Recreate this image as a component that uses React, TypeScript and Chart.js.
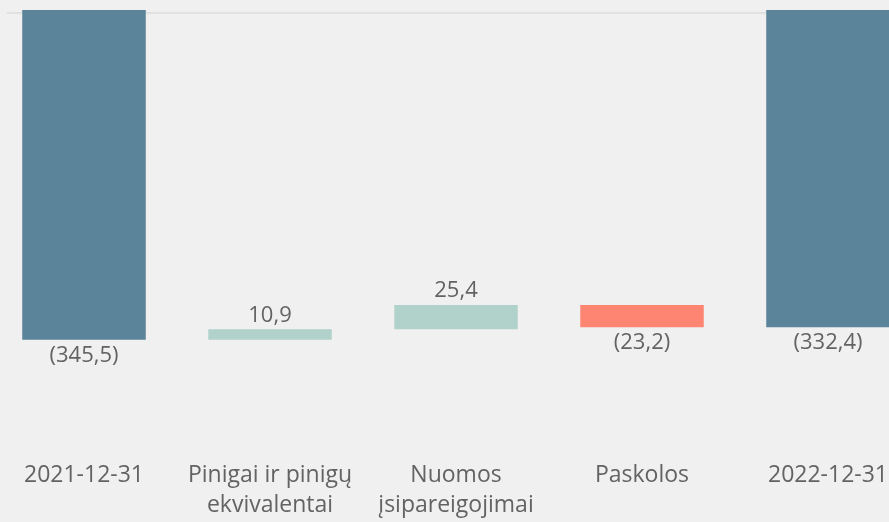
import React, { useEffect, useRef } from 'react';
import { Chart, registerables } from 'chart.js';
Chart.register(...registerables);

const categories: string[][] = [
  ['2021-12-31'],
  ['Pinigai ir pinigų', 'ekvivalentai'],
  ['Nuomos', 'įsipareigojimai'],
  ['Paskolos'],
  ['2022-12-31'],
];
const values = [-345.5, 10.9, 25.4, -23.2, -332.4];
const kinds = ['total', 'change', 'change', 'change', 'total'];

const COLOR_TOTAL = '#5b8399';
const COLOR_UP = '#b1d2ca';
const COLOR_DOWN = '#ff8573';
const TEXT = '#636363';
const FONT = "'Open Sans', 'Segoe UI', sans-serif";

function buildRanges() {
  let running = 0;
  return values.map((v, i) => {
    if (kinds[i] === 'total') {
      running = v;
      return [0, v];
    }
    const r = [running, running + v];
    running += v;
    return r;
  });
}

function fmt(v: number) {
  const s = Math.abs(v).toFixed(1).replace('.', ',');
  return v < 0 ? `(${s})` : s;
}

const barColors = values.map((v, i) =>
  kinds[i] === 'total' ? COLOR_TOTAL : v >= 0 ? COLOR_UP : COLOR_DOWN
);

const topLinePlugin = {
  id: 'topLine',
  beforeDatasetsDraw(chart: any) {
    const { ctx } = chart;
    const y = chart.scales.y.getPixelForValue(0) + 3;
    ctx.save();
    ctx.strokeStyle = '#dcdcdc';
    ctx.lineWidth = 1.5;
    ctx.beginPath();
    ctx.moveTo(16, y);
    ctx.lineTo(chart.width, y);
    ctx.stroke();
    ctx.restore();
  },
};

const labelPlugin = {
  id: 'valueLabels',
  afterDatasetsDraw(chart: any) {
    const { ctx } = chart;
    const meta = chart.getDatasetMeta(0);
    ctx.save();
    ctx.font = `22px ${FONT}`;
    ctx.fillStyle = TEXT;
    ctx.textAlign = 'center';
    ctx.textBaseline = 'middle';
    meta.data.forEach((bar: any, i: number) => {
      const { x, y, base } = bar.getProps(['x', 'y', 'base'], true);
      const top = Math.min(y, base);
      const bottom = Math.max(y, base);
      const v = values[i];
      if (v >= 0) ctx.fillText(fmt(v), x, top - 14);
      else ctx.fillText(fmt(v), x, bottom + 16);
    });
    ctx.restore();
  },
};

export default function App() {
  const ref = useRef<HTMLCanvasElement>(null);
  useEffect(() => {
    if (!ref.current) return;
    const chart = new Chart(ref.current, {
      type: 'bar',
      data: {
        labels: categories,
        datasets: [
          {
            data: buildRanges() as any,
            backgroundColor: barColors,
            borderWidth: 0,
            barPercentage: 0.664,
            categoryPercentage: 1,
            borderSkipped: false,
          },
        ],
      },
      options: {
        animation: false,
        responsive: true,
        maintainAspectRatio: false,
        layout: { padding: { top: 10, left: 0, right: 0, bottom: 0 } },
        plugins: { legend: { display: false }, tooltip: { enabled: false } },
        scales: {
          x: {
            grid: { display: false, drawTicks: false },
            border: { display: false },
            ticks: {
              color: TEXT,
              padding: 11,
              maxRotation: 0,
              autoSkip: false,
              font: { family: FONT, size: 23, lineHeight: 1.304 },
            },
            afterFit: (axis: any) => {
              axis.height = 73;
            },
          },
          y: {
            display: false,
            min: -460,
            max: 0,
          },
        },
      },
      plugins: [topLinePlugin, labelPlugin],
    });
    return () => chart.destroy();
  }, []);

  return (
    <div
      style={{
        position: 'fixed',
        left: 0,
        top: 0,
        width: 889,
        height: 522,
        overflow: 'hidden',
        background: '#f0f0f0',
      }}
    >
      <div style={{ position: 'absolute', left: -9, top: 0, width: 930, height: 522 }}>
        <canvas ref={ref} />
      </div>
    </div>
  );
}
